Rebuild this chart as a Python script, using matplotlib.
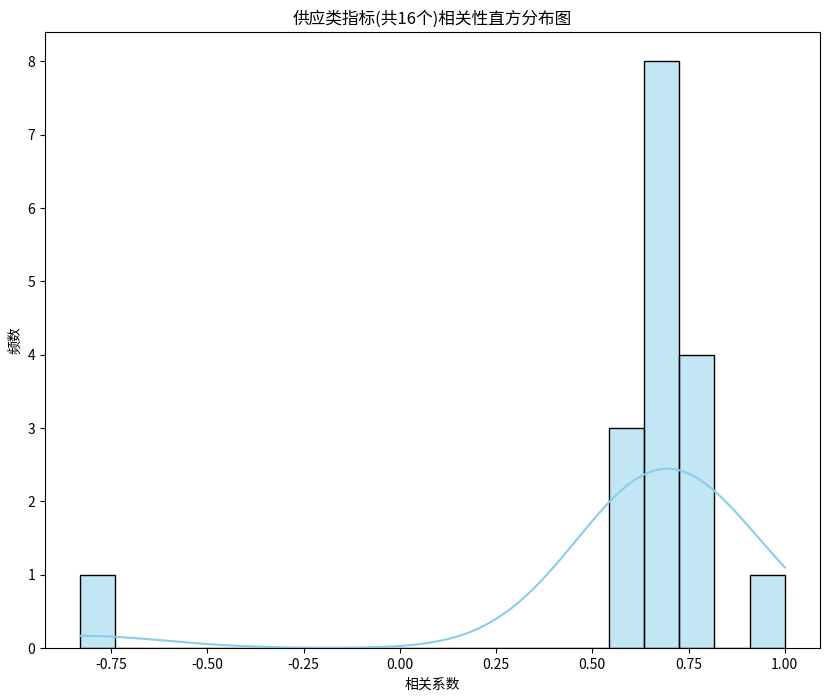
import matplotlib
matplotlib.use("Agg")
import matplotlib.pyplot as plt
import seaborn as sns
import numpy as np

# correlation coefficients of the supply indicators
corr_values = [-0.83,
               0.55, 0.58, 0.62,
               0.64, 0.65, 0.66, 0.68, 0.69, 0.70, 0.71, 0.72,
               0.73, 0.76, 0.78, 0.81,
               1.00]
title = "供应类指标(共16个)相关性直方分布图"
x_label = "相关系数"
y_label = "频数"

plt.rcParams['font.family'] = ['Noto Sans CJK SC', 'DejaVu Sans']
plt.rcParams['axes.unicode_minus'] = False

fig = plt.figure(figsize=(8.29, 6.98), dpi=100)
fig.subplots_adjust(left=45/829, right=820/829, top=1-32/698, bottom=1-648/698)
ax = fig.add_subplot(111)

sns.histplot(corr_values, bins=20, kde=True, color="skyblue",
             edgecolor="black", alpha=0.5, ax=ax)

ax.set_title(title, fontsize=12)
ax.set_xlabel(x_label)
ax.set_ylabel(y_label)

fig.savefig("out.png", dpi=100)
